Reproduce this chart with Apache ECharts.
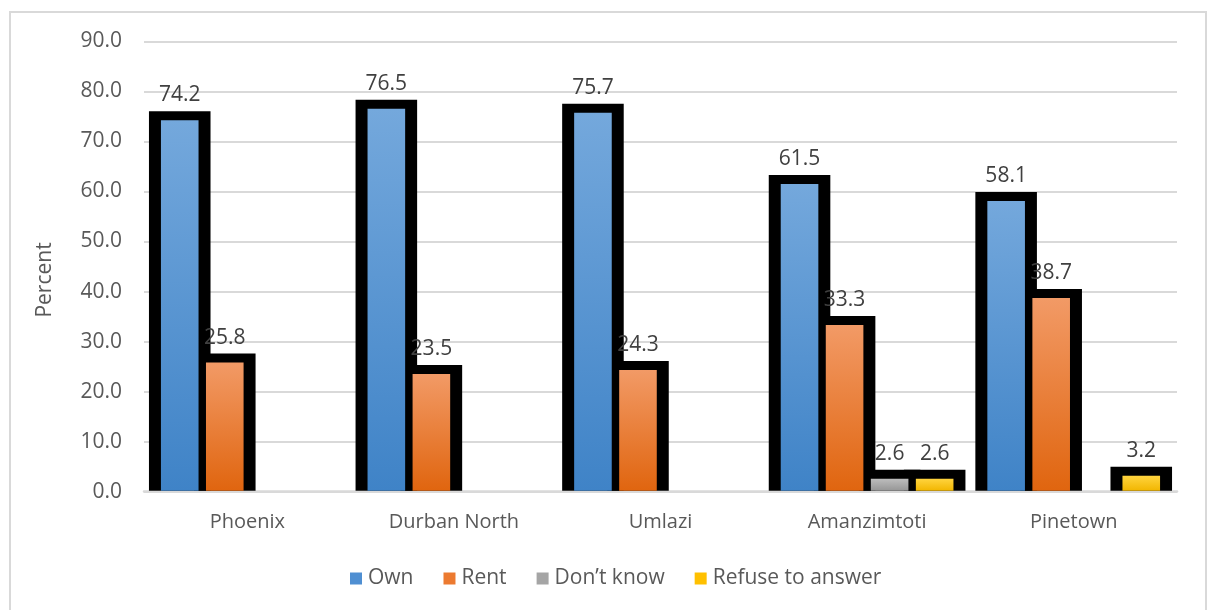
<!DOCTYPE html>
<html>
<head>
<meta charset="utf-8">
<title>Home ownership by area</title>
<script src="https://cdn.jsdelivr.net/npm/echarts@6/dist/echarts.min.js"></script>
<style>
  html, body { margin: 0; padding: 0; background: #ffffff; }
  #chart { width: 1208px; height: 610px; }
</style>
</head>
<body>
<div id="chart"></div>
<script>
// Areas along the category axis
const categories = ['Phoenix', 'Durban North', 'Umlazi', 'Amanzimtoti', 'Pinetown'];

// Percent of respondents per tenure answer (null = no response recorded)
const own      = [74.2, 76.5, 75.7, 61.5, 58.1];
const rent     = [25.8, 23.5, 24.3, 33.3, 38.7];
const dontKnow = [null, null, null, 2.6, null];
const refuse   = [null, null, null, 2.6, 3.2];

const seriesNames = ['Own', 'Rent', 'Don\u2019t know', 'Refuse to answer'];

// Value axis ticks
const yMin = 0;
const yMax = 90;
const yStep = 10;

const FONT = '"Open Sans", "Liberation Sans", sans-serif';

const fills = [
  { top: '#74a8dc', bottom: '#3f83c7', legend: '#4f8fd2' },
  { top: '#f29a66', bottom: '#e0650f', legend: '#ec7a30' },
  { top: '#bdbdbd', bottom: '#969696', legend: '#a5a5a5' },
  { top: '#ffd43f', bottom: '#f2b600', legend: '#ffc000' }
];

const allValues = [own, rent, dontKnow, refuse];

function toData(arr) {
  const out = [];
  arr.forEach((v, i) => { if (v !== null) out.push([i, v]); });
  return out;
}

// Geometry of one bar inside its category band
function barGeom(api, slot) {
  const cat = api.value(0);
  const v = api.value(1);
  const top = api.coord([cat, v]);
  const base = api.coord([cat, 0]);
  const band = api.size([1, 0])[0];
  const step = band * 0.218;
  const w = band * 0.182;
  const pad = band * 0.058;
  const cx = top[0] + (slot - 1.5) * step;
  return { v, top: top[1], base: base[1], cx, w, pad };
}

function outlineSeries(slot) {
  return {
    type: 'custom',
    name: seriesNames[slot],
    z: 2,
    silent: true,
    data: toData(allValues[slot]),
    encode: { x: 0, y: 1 },
    renderItem: function (params, api) {
      const g = barGeom(api, slot);
      return {
        type: 'rect',
        shape: {
          x: g.cx - g.w / 2 - g.pad,
          y: g.top - 9,
          width: g.w + 2 * g.pad,
          height: g.base - g.top + 9 - 1
        },
        style: { fill: '#000000' }
      };
    }
  };
}

function fillSeries(slot) {
  const c = fills[slot];
  return {
    type: 'custom',
    name: seriesNames[slot],
    z: 3,
    itemStyle: { color: c.legend },
    data: toData(allValues[slot]),
    encode: { x: 0, y: 1 },
    renderItem: function (params, api) {
      const g = barGeom(api, slot);
      return {
        type: 'group',
        children: [
          {
            type: 'rect',
            shape: { x: g.cx - g.w / 2, y: g.top, width: g.w, height: g.base - g.top - 1 },
            style: {
              fill: {
                type: 'linear', x: 0, y: 0, x2: 0, y2: 1,
                colorStops: [
                  { offset: 0, color: c.top },
                  { offset: 1, color: c.bottom }
                ]
              }
            }
          },
          {
            type: 'text',
            z2: 10,
            style: {
              text: g.v.toFixed(1),
              x: g.cx,
              y: g.top - 25,
              align: 'center',
              verticalAlign: 'middle',
              font: '21px ' + FONT,
              fill: '#404040'
            }
          }
        ]
      };
    }
  };
}

const chart = echarts.init(document.getElementById('chart'), null, { renderer: 'canvas' });

chart.setOption({
  backgroundColor: '#ffffff',
  animation: false,
  grid: { left: 144, right: 31, top: 41.3, bottom: 118.3, containLabel: false },
  legend: {
    left: 345,
    top: 563,
    itemWidth: 12,
    itemHeight: 12,
    itemGap: 30,
    icon: 'rect',
    textStyle: { fontFamily: FONT, fontSize: 21, color: '#595959', padding: [0, 0, 0, 1] },
    data: seriesNames.map((n, i) => ({ name: n, itemStyle: { color: fills[i].legend } }))
  },
  xAxis: {
    type: 'category',
    data: categories,
    axisTick: { show: false },
    axisLine: { lineStyle: { color: '#d9d9d9', width: 2.5 } },
    axisLabel: { fontFamily: FONT, fontSize: 20, color: '#595959', margin: 21 }
  },
  yAxis: {
    type: 'value',
    min: yMin,
    max: yMax,
    interval: yStep,
    axisLine: { show: false },
    axisTick: { show: false },
    splitLine: { lineStyle: { color: '#d9d9d9', width: 2 } },
    axisLabel: {
      fontFamily: FONT, fontSize: 21, color: '#595959', margin: 22,
      formatter: v => v.toFixed(1)
    }
  },
  graphic: [
    {
      type: 'rect',
      shape: { x: 10, y: 12, width: 1196, height: 612 },
      style: { fill: 'none', stroke: '#d9d9d9', lineWidth: 2 },
      silent: true
    },
    {
      type: 'text',
      x: 45,
      y: 280,
      rotation: Math.PI / 2,
      style: {
        text: 'Percent',
        font: '21px ' + FONT,
        fill: '#595959',
        align: 'center',
        verticalAlign: 'middle'
      }
    }
  ],
  series: [
    fillSeries(0), fillSeries(1), fillSeries(2), fillSeries(3),
    outlineSeries(0), outlineSeries(1), outlineSeries(2), outlineSeries(3)
  ]
});
</script>
</body>
</html>
